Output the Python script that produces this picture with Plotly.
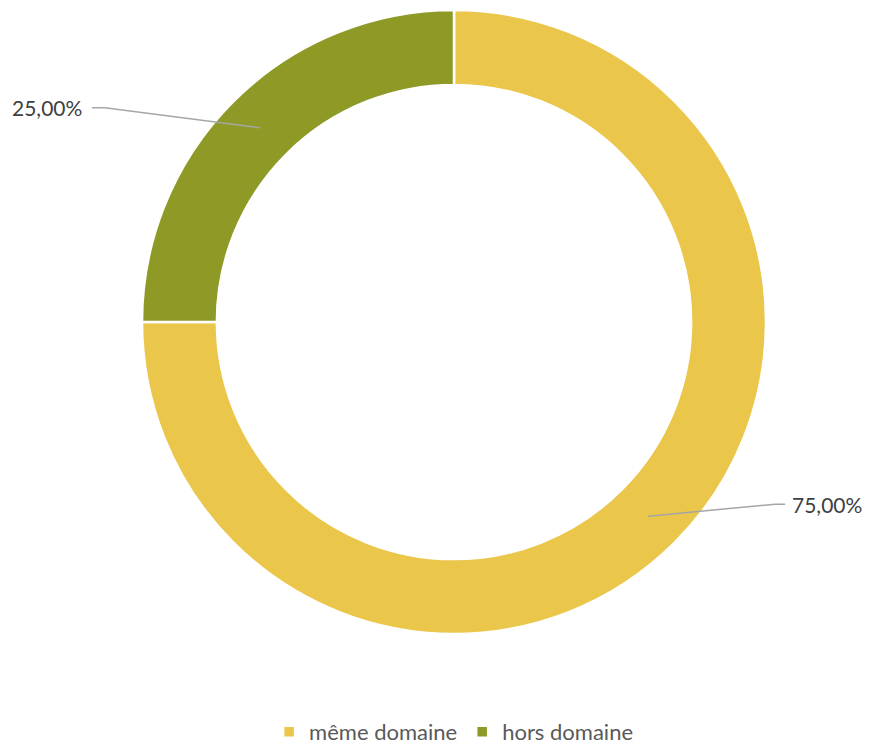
import math
import plotly.graph_objects as go

categories = ["même domaine", "hors domaine"]
values = [75.0, 25.0]
label_texts = ["75,00%", "25,00%"]
colors = ["#EAC64A", "#8F9A26"]

W, H = 869, 753
cx, cy, R = 454, 322, 312        # ring centre / outer radius (px)
hole = 0.76

fig = go.Figure(go.Pie(
    labels=categories, values=values, sort=False, direction="clockwise", rotation=0,
    hole=hole, marker=dict(colors=colors, line=dict(color="white", width=2.5)),
    textinfo="none", hoverinfo="label+percent",
    domain=dict(x=[(cx - R) / W, (cx + R) / W],
                y=[(H - cy - R) / H, (H - cy + R) / H]),
))

def px(x):
    return x / W

def py(y):
    return (H - y) / H

total = sum(values)
cum = 0
shapes = []
annotations = []
r_mid = R * (1 + hole) / 2
for v, t in zip(values, label_texts):
    mid = (cum + v / 2) / total * 2 * math.pi
    cum += v
    sx = cx + r_mid * math.sin(mid)
    sy = cy - r_mid * math.cos(mid)
    right = math.sin(mid) > 0
    if right:
        ex, ey = sx + 127, sy - 12
        hx = ex + 10
        tx, anchor = hx + 5, "left"
    else:
        ex, ey = sx - 155, sy - 20
        hx = ex - 13
        tx, anchor = hx - 8, "right"
    shapes.append(dict(type="path", xref="paper", yref="paper",
                       path=f"M {px(sx)},{py(sy)} L {px(ex)},{py(ey)} L {px(hx)},{py(ey)}",
                       line=dict(color="#A6A6A6", width=1.5)))
    annotations.append(dict(x=px(tx), y=py(ey), xref="paper", yref="paper", text=t,
                            showarrow=False, xanchor=anchor, yanchor="middle",
                            font=dict(size=21, color="#404040", family="Lato")))

fig.update_layout(
    width=W, height=H, margin=dict(l=0, r=0, t=0, b=0),
    paper_bgcolor="white", plot_bgcolor="white",
    shapes=shapes, annotations=annotations,
    legend=dict(orientation="h", x=0.522, xanchor="center", y=0, yanchor="bottom",
                font=dict(size=22, color="#595959", family="Lato"), itemwidth=30),
    font=dict(family="Lato"),
)

fig.write_html("out.html", config={"displayModeBar": False},
               post_script="document.body.style.margin='0';")
